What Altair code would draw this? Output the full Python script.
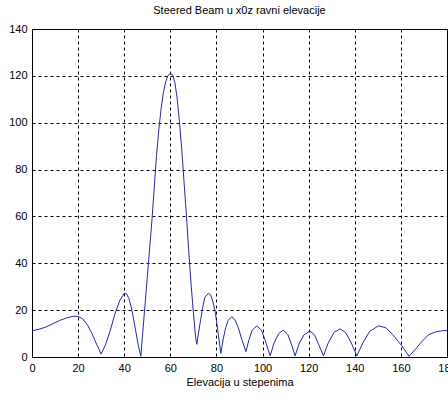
import altair as alt
import pandas as pd

deg = [0, 3, 6, 9, 12, 15, 18, 20, 22, 24, 26, 28, 30,
       32, 34, 36, 38, 40, 41, 42, 43, 44, 45, 46, 47.2,
       48, 49, 50, 51, 52, 53, 54, 55, 56, 57, 58, 59, 60, 61, 62, 63, 64, 65, 66, 67, 68, 69, 70, 71, 71.5,
       72, 73, 74, 75, 76.5, 77.5, 78.5, 79.5, 80.5, 81.9,
       83, 84, 85, 86.6, 88, 89.5, 91, 92.8,
       94, 95.5, 97.5, 99.5, 101, 103.3,
       105, 107, 109, 111, 112.5, 114.1,
       116, 118, 120.6, 122.5, 124.5, 126.4,
       128.5, 131, 133.6, 136, 138.5, 140.9,
       143.5, 146.5, 150.3, 153.5, 156.5, 159, 160.4, 162, 163.5,
       166, 169, 172, 175, 178, 180]
val = [11.2, 11.8, 12.8, 14.2, 15.6, 16.7, 17.4, 17.3, 16.3, 13.8, 10.0, 5.5, 1.2,
       5.5, 11.5, 18.5, 24.0, 27.2, 27.0, 25.0, 21.5, 16.5, 11.0, 5.5, 0.3,
       10.0, 22.0, 34.0, 46.0, 58.0, 72.0, 86.0, 97.0, 106.0, 113.0, 117.5, 120.2, 121.0, 120.5, 117.0, 110.0, 100.0, 88.0, 74.0, 60.0, 45.0, 31.0, 19.0, 8.0, 5.4,
       9.0, 15.0, 21.0, 25.5, 27.2, 26.5, 23.5, 19.0, 12.0, 1.5,
       8.0, 12.5, 15.5, 17.2, 16.0, 12.5, 7.5, 2.3,
       7.0, 11.5, 13.2, 11.5, 7.5, 0.5,
       6.0, 10.0, 11.5, 9.5, 5.5, 0.5,
       6.0, 9.5, 11.0, 9.5, 5.0, 0.5,
       6.0, 10.5, 12.0, 10.5, 6.0, 0.5,
       6.0, 11.0, 13.3, 12.5, 9.5, 6.5, 4.8, 2.5, 0.3,
       3.0, 6.5, 9.5, 10.7, 11.2, 11.3]

x_ticks = [0, 20, 40, 60, 80, 100, 120, 140, 160, 180]
y_ticks = [0, 20, 40, 60, 80, 100, 120, 140]

df = pd.DataFrame({"deg": deg, "val": val})

FONT = "Liberation Sans"

chart = alt.Chart(df).mark_line(color="#2626b0", strokeWidth=1, clip=True).encode(
    x=alt.X("deg:Q", scale=alt.Scale(domain=[0, 180], nice=False),
            axis=alt.Axis(values=x_ticks, title="Elevacija u stepenima", labelFlush=False,
                          labelPadding=5, titlePadding=3)),
    y=alt.Y("val:Q", scale=alt.Scale(domain=[0, 140], nice=False),
            axis=alt.Axis(values=y_ticks, title=None, labelPadding=5)),
).properties(
    width=415, height=328,
    title=alt.TitleParams("Steered Beam u x0z ravni elevacije", font=FONT, fontSize=11,
                          fontWeight="normal", color="#000", offset=7, anchor="middle"),
    padding={"left": 32, "top": 29, "right": 1, "bottom": 46},
    autosize=alt.AutoSizeParams(type="none"),
).configure(
    background="white"
).configure_view(
    stroke="#000", strokeWidth=1
).configure_axis(
    grid=True, gridColor="#000", gridDash=[3, 3], gridOpacity=1, gridWidth=1,
    domainColor="#000", ticks=False,
    labelFont=FONT, labelFontSize=11, labelColor="#000",
    titleFont=FONT, titleFontSize=11, titleFontWeight="normal", titleColor="#000",
)

chart.save("out.html", embed_options={"renderer": "svg", "actions": False})
